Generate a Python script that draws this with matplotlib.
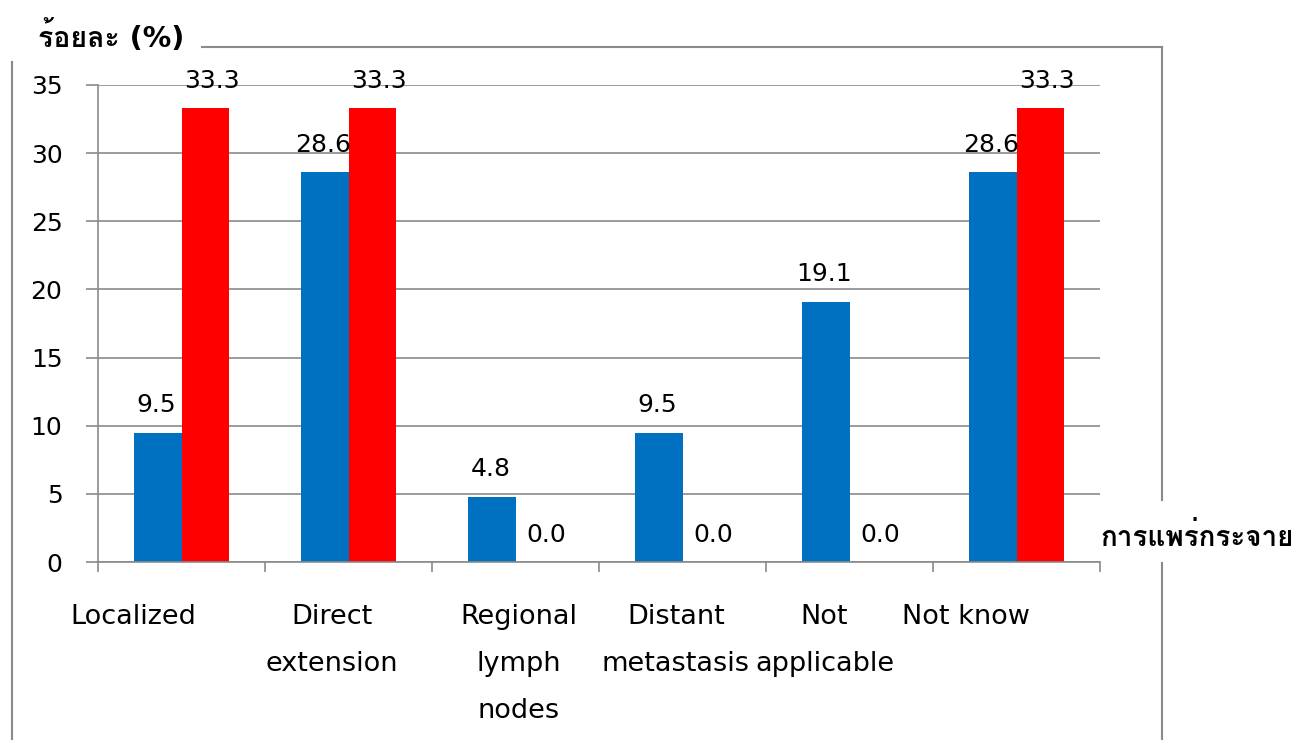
"""Spread of disease by stage: bar chart (Thai labels)."""
import matplotlib
matplotlib.use("Agg")
import matplotlib.pyplot as plt
import numpy as np
from matplotlib import font_manager
from matplotlib.lines import Line2D

categories = ["Localized", "Direct\nextension", "Regional\nlymph\nnodes",
              "Distant\nmetastasis", "Not\napplicable", "Not know"]
blue_values = [9.5, 28.6, 4.8, 9.5, 19.1, 28.6]
red_values = [33.3, 33.3, 0.0, 0.0, 0.0, 33.3]
y_ticks = [0, 5, 10, 15, 20, 25, 30, 35]
y_title = "ร้อยละ (%)"
x_title = "การแพร่กระจาย"

BLUE = "#0070C0"
RED = "#FF0000"
GRAY = "#8A8A8A"
W, H = 1292, 740


def thai_family():
    from fontTools.ttLib import TTFont
    for f in font_manager.fontManager.ttflist:
        try:
            font = TTFont(f.fname, fontNumber=0, lazy=True)
            cmap = font.getBestCmap()
        except Exception:
            continue
        if cmap and 0x0E01 in cmap:
            return f.name
    return None


thai = thai_family()
families = ["DejaVu Sans"] + ([thai] if thai else [])
plt.rcParams["font.family"] = families

fig = plt.figure(figsize=(W / 100, H / 100), dpi=100)
ax = fig.add_axes([98 / W, 1 - 562 / H, (1100 - 98) / W, (562 - 85) / H])

x = np.arange(len(categories)) + 0.5
width = 0.285
b1 = ax.bar(x - width / 2, blue_values, width, color=BLUE, zorder=2)
b2 = ax.bar(x + width / 2, red_values, width, color=RED, zorder=2)
for bars, dx in ((b1, -1), (b2, 5)):
    for ann in ax.bar_label(bars, fmt="%.1f", padding=11, fontsize=18):
        ann.xyann = (dx, ann.xyann[1])

ax.set_xlim(0, len(categories))
ax.set_ylim(0, 35)
ax.set_yticks(y_ticks)
ax.yaxis.grid(True, color=GRAY, linewidth=1.2)
ax.set_axisbelow(True)
ax.tick_params(axis="y", length=8.6, width=1.2, color=GRAY, pad=17, labelsize=18)

# category labels sit a bit left of the bar groups, as in the source sheet
label_shift = [-0.29, -0.1, 0.02, -0.04, -0.15, -0.3]
ax.set_xticks(x + np.array(label_shift))
ax.set_xticklabels(categories, fontsize=19.5, linespacing=2.07)
ax.set_xticks(np.arange(len(categories) + 1), minor=True)
ax.tick_params(axis="x", which="major", length=0, pad=30)
ax.tick_params(axis="x", which="minor", length=7.5, width=1.2, color=GRAY)

for side in ("top", "right"):
    ax.spines[side].set_visible(False)
for side in ("left", "bottom"):
    ax.spines[side].set_color(GRAY)
    ax.spines[side].set_linewidth(1.2)

fig.text(38 / W, 1 - 37 / H, y_title, fontsize=20.5, fontweight="bold",
         ha="left", va="center")
fig.text(1100 / W, 1 - 537 / H, x_title, fontsize=20, fontweight="bold",
         ha="left", va="center")


def frame(x0, y0, x1, y1):
    fig.add_artist(Line2D([x0 / W, x1 / W], [1 - y0 / H, 1 - y1 / H],
                          transform=fig.transFigure, color=GRAY, linewidth=1.5))


# outer chart border, partly hidden behind the axis titles
frame(12, 62, 12, 740)
frame(202, 47, 1162, 47)
frame(1162, 47, 1162, 500)
frame(1162, 563, 1162, 740)

fig.savefig("out.png", dpi=100)
